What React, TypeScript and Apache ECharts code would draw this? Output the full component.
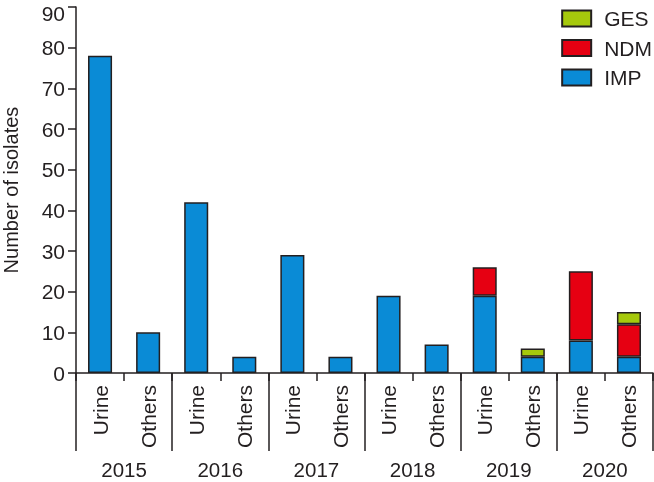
import React, { useEffect, useRef } from "react";
import * as echarts from "echarts";

const sources = ["Urine", "Others", "Urine", "Others", "Urine", "Others", "Urine", "Others", "Urine", "Others", "Urine", "Others"];
const years = ["2015", "2016", "2017", "2018", "2019", "2020"];
const imp = [78, 10, 42, 4, 29, 4, 19, 7, 19, 4, 8, 4];
const ndm = [null, null, null, null, null, null, null, null, 7, null, 17, 8];
const ges = [null, null, null, null, null, null, null, null, null, 2, null, 3];
const yTicks = { min: 0, max: 90, interval: 10 };

const INK = "#231f20";
const FONT = "Liberation Sans, Arial, Helvetica, sans-serif";

export default function App() {
  const ref = useRef<HTMLDivElement>(null);
  useEffect(() => {
    document.body.style.margin = "0";
    const chart = echarts.init(ref.current!, null, { renderer: "svg" });
    const barStyle = (color: string) => ({ color, borderColor: INK, borderWidth: 1.5 });
    chart.setOption({
      animation: false,
      textStyle: { fontFamily: FONT, color: INK },
      grid: { left: 76, right: 1, top: 7, bottom: 109, containLabel: false, outerBoundsMode: "none" },
      legend: {
        orient: "vertical",
        right: 2,
        top: 8,
        padding: 0,
        itemWidth: 29,
        itemHeight: 16,
        itemGap: 8.5,
        icon: "rect",
        data: ["GES", "NDM", "IMP"],
        textStyle: { fontSize: 21, color: INK, fontFamily: FONT, padding: [0, 0, 0, 8] },
      },
      xAxis: [
        {
          type: "category",
          data: sources,
          position: "bottom",
          axisLine: { show: true, lineStyle: { color: INK, width: 1.5 } },
          axisTick: { show: true, length: 8, interval: 0, alignWithLabel: false, lineStyle: { color: INK, width: 1.5 } },
          axisLabel: { interval: 0, rotate: 90, margin: 12, fontSize: 21, color: INK, fontFamily: FONT },
        },
        {
          type: "category",
          data: years,
          position: "bottom",
          offset: 0,
          axisLine: { show: false },
          axisTick: { show: true, length: 78, interval: 0, alignWithLabel: false, lineStyle: { color: INK, width: 1.5 } },
          axisLabel: { interval: 0, margin: 88, fontSize: 20.5, lineHeight: 16, color: INK, fontFamily: FONT },
        },
      ],
      yAxis: {
        type: "value",
        min: yTicks.min,
        max: yTicks.max,
        interval: yTicks.interval,
        name: "Number of isolates",
        nameLocation: "middle",
        nameGap: 55,
        nameTextStyle: { fontSize: 20, color: INK, fontFamily: FONT },
        axisLine: { show: true, lineStyle: { color: INK, width: 1.5 } },
        axisTick: { show: true, length: 8, lineStyle: { color: INK, width: 1.5 } },
        splitLine: { show: false },
        axisLabel: {
          fontSize: 21,
          margin: 11,
          color: INK,
          fontFamily: FONT,
          formatter: (v: number) => (v === yTicks.max ? `{top|${v}}` : `${v}`),
          rich: { top: { fontSize: 21, fontFamily: FONT, color: INK, padding: [12, 0, 0, 0] } },
        },
      },
      series: [
        { name: "IMP", type: "bar", stack: "a", xAxisIndex: 0, barWidth: "50%", data: imp, itemStyle: barStyle("#0a8bd6") },
        { name: "NDM", type: "bar", stack: "a", xAxisIndex: 0, barWidth: "50%", data: ndm, itemStyle: barStyle("#e60012") },
        { name: "GES", type: "bar", stack: "a", xAxisIndex: 0, barWidth: "50%", data: ges, itemStyle: barStyle("#a6c90c") },
      ],
    });
    return () => chart.dispose();
  }, []);
  return <div ref={ref} style={{ position: "fixed", left: 0, top: 0, width: 654, height: 482 }} />;
}
